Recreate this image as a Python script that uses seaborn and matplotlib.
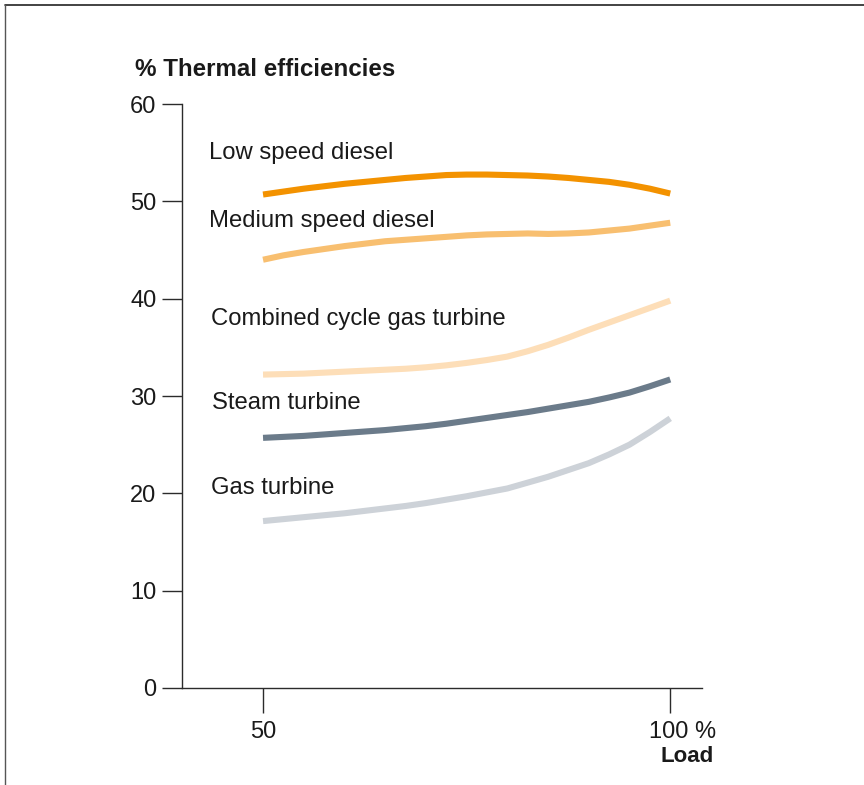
import matplotlib
matplotlib.use("Agg")
import matplotlib.pyplot as plt
import matplotlib.transforms as mtransforms
from matplotlib.lines import Line2D
import pandas as pd
import seaborn as sns

# Engine load (% of rated) and thermal efficiency (%) for each prime mover
load = [50, 52.5, 55, 57.5, 60, 62.5, 65, 67.5, 70, 72.5, 75,
        77.5, 80, 82.5, 85, 87.5, 90, 92.5, 95, 97.5, 100]
low_speed_diesel = [50.7, 51.0, 51.3, 51.55, 51.8, 52.0, 52.2, 52.4, 52.55, 52.7, 52.75,
                    52.75, 52.7, 52.65, 52.55, 52.4, 52.2, 52.0, 51.7, 51.3, 50.8]
medium_speed_diesel = [44.0, 44.45, 44.8, 45.1, 45.4, 45.65, 45.9, 46.05, 46.2, 46.35, 46.5,
                       46.6, 46.65, 46.7, 46.65, 46.7, 46.8, 47.0, 47.2, 47.5, 47.8]
combined_cycle = [32.2, 32.25, 32.3, 32.4, 32.5, 32.6, 32.7, 32.8, 32.95, 33.15, 33.4,
                  33.7, 34.05, 34.6, 35.25, 36.0, 36.8, 37.55, 38.3, 39.05, 39.8]
steam_turbine = [25.7, 25.8, 25.9, 26.05, 26.2, 26.35, 26.5, 26.7, 26.9, 27.15, 27.45,
                 27.75, 28.05, 28.35, 28.7, 29.05, 29.4, 29.85, 30.35, 31.0, 31.7]
gas_turbine = [17.15, 17.35, 17.55, 17.75, 17.95, 18.2, 18.45, 18.7, 19.0, 19.35, 19.7,
               20.1, 20.5, 21.1, 21.7, 22.4, 23.1, 24.0, 25.0, 26.3, 27.7]

series_names = ["Low speed diesel", "Medium speed diesel", "Combined cycle gas turbine",
                "Steam turbine", "Gas turbine"]
series_values = [low_speed_diesel, medium_speed_diesel, combined_cycle,
                 steam_turbine, gas_turbine]
series_colors = ["#F39200", "#F8BF70", "#FDDEB8", "#6B7B8A", "#CDD2D8"]

# label anchor (load, efficiency) for each curve name
label_x = [43.4, 43.4, 43.6, 43.7, 43.6]
label_y = [55.0, 48.0, 37.9, 29.3, 20.5]

y_ticks = [0, 10, 20, 30, 40, 50, 60]
x_ticks = [50, 100]
x_tick_labels = ["50", "100 %"]

sns.set_theme(style="white")
plt.rcParams["font.family"] = ["Liberation Sans", "DejaVu Sans"]
text_color = "#1a1a1a"
axis_color = "#2b2b2b"

df = pd.concat(
    [pd.DataFrame({"Load": load, "Efficiency": vals, "Type": name})
     for name, vals in zip(series_names, series_values)],
    ignore_index=True,
)

fig = plt.figure(figsize=(8.64, 7.85), dpi=100)
ax = fig.add_axes([182 / 864, 1 - 688 / 785, (702 - 182) / 864, (688 - 104) / 785])

sns.lineplot(data=df, x="Load", y="Efficiency", hue="Type",
             palette=dict(zip(series_names, series_colors)),
             linewidth=4.4, legend=False, ax=ax)
for line in ax.get_lines():
    line.set_solid_capstyle("butt")
    line.set_solid_joinstyle("round")

for name, lx, ly in zip(series_names, label_x, label_y):
    ax.text(lx, ly, name, fontsize=17.2, color=text_color, ha="left", va="center")

ax.set_xlim(40.05, 103.9)
ax.set_ylim(0, 60)
ax.set_xticks(x_ticks)
ax.set_xticklabels(x_tick_labels)
ax.set_yticks(y_ticks)
ax.set_xlabel("")
ax.set_ylabel("")

for side in ["top", "right"]:
    ax.spines[side].set_visible(False)
for side in ["left", "bottom"]:
    ax.spines[side].set_color(axis_color)
    ax.spines[side].set_linewidth(1.0)

ax.tick_params(axis="y", direction="out", length=14.4, width=1.0, color=axis_color,
               pad=4, labelsize=17, labelcolor=text_color, left=True)
ax.tick_params(axis="x", direction="out", length=18, width=1.0, color=axis_color,
               pad=6, labelsize=17, labelcolor=text_color, bottom=True)

# keep "100" centred on its tick, with the percent sign trailing
lbl = ax.get_xticklabels()[1]
lbl.set_transform(lbl.get_transform() +
                  mtransforms.ScaledTranslation(12.5 / 100, 0, fig.dpi_scale_trans))

fig.text(135 / 864, 1 - 70 / 785, "% Thermal efficiencies", fontsize=17.4,
         fontweight="bold", color=text_color, ha="left", va="center")
fig.text(687 / 864, 1 - 757 / 785, "Load", fontsize=16, fontweight="bold",
         color=text_color, ha="center", va="center")

# outer frame along the top and left edges
fig.add_artist(Line2D([4.5 / 864, 1.0], [1 - 4.5 / 785, 1 - 4.5 / 785],
                      transform=fig.transFigure, color="#222222", linewidth=1.2))
fig.add_artist(Line2D([4.5 / 864, 4.5 / 864], [0.0, 1 - 4.5 / 785],
                      transform=fig.transFigure, color="#555555", linewidth=1.0))

fig.savefig("out.png", dpi=100)
